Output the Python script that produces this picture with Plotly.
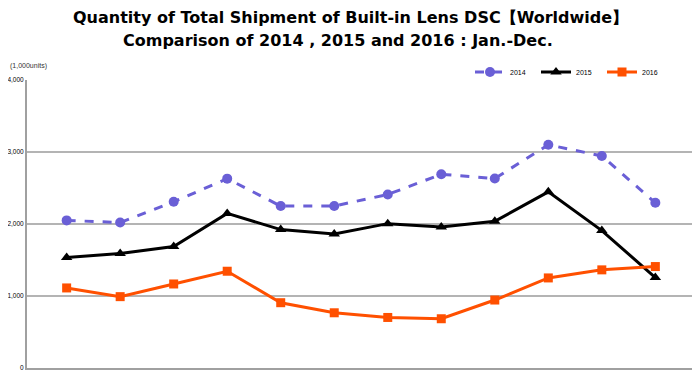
import plotly.graph_objects as go

months = ["Jan", "Feb", "Mar", "Apr", "May", "Jun", "Jul", "Aug", "Sep", "Oct", "Nov", "Dec"]
v2014 = [2050, 2020, 2308, 2630, 2249, 2250, 2410, 2690, 2632, 3100, 2945, 2295]
v2015 = [1535, 1590, 1688, 2147, 1922, 1862, 2005, 1959, 2037, 2447, 1908, 1256]
v2016 = [1112, 991, 1167, 1344, 907, 767, 702, 684, 944, 1251, 1363, 1409]
tick_vals = [0, 1000, 2000, 3000, 4000]
tick_text = ["0", "1,000", "2,000", "3,000", "4,000"]
title_1 = "Quantity of Total Shipment of Built-in Lens DSC【Worldwide】"
title_2 = "Comparison of 2014 , 2015 and 2016 : Jan.-Dec."
units = "(1,000units)"

# page has an 8px body margin, so the figure is sized/positioned to compensate
W, H = 692, 368
ML, MR, MT, MB = 19, 5, 72, 8
PW, PH = W - ML - MR, H - MT - MB


def px_x(page_x):
    return (page_x - 8 - ML) / PW


def px_y(page_y):
    return (H - MB - (page_y - 8)) / PH


fig = go.Figure()
fig.add_trace(go.Scatter(x=months, y=v2014, name="2014", mode="lines+markers",
                         line=dict(color="#6a5fd6", width=3, dash="dash"),
                         marker=dict(symbol="circle", size=10, color="#6a5fd6")))
fig.add_trace(go.Scatter(x=months, y=v2015, name="2015", mode="lines+markers",
                         line=dict(color="#000000", width=3),
                         marker=dict(symbol="triangle-up", size=10, color="#000000")))
fig.add_trace(go.Scatter(x=months, y=v2016, name="2016", mode="lines+markers",
                         line=dict(color="#ff5000", width=3),
                         marker=dict(symbol="square", size=9, color="#ff5000")))

title_font = dict(family="DejaVu Sans", size=16, color="black", weight="bold")
fig.update_layout(
    width=W, height=H,
    margin=dict(l=ML, r=MR, t=MT, b=MB),
    paper_bgcolor="white", plot_bgcolor="white",
    showlegend=True,
    legend=dict(orientation="h", x=px_x(470), xanchor="left", y=px_y(72), yanchor="middle",
                font=dict(family="Liberation Sans", size=7, color="black"),
                entrywidth=21, entrywidthmode="pixels", bgcolor="rgba(0,0,0,0)"),
    xaxis=dict(showticklabels=False, showgrid=False, showline=True, linecolor="#a0a0a0",
               linewidth=2, ticks="", zeroline=False),
    yaxis=dict(range=[0, 4000], tickvals=tick_vals, ticktext=tick_text, automargin=False,
               showgrid=True, gridcolor="#b4b4b4", gridwidth=1.5, ticklabelstandoff=0,
               showline=True, linecolor="#a0a0a0", linewidth=2, zeroline=False,
               tickfont=dict(family="Liberation Sans", size=6.5, color="black"), ticks=""),
    annotations=[
        dict(text=title_1, x=px_x(350), xref="paper", xanchor="center", y=px_y(17), yref="paper",
             yanchor="middle", showarrow=False, font=title_font),
        dict(text=title_2, x=px_x(338), xref="paper", xanchor="center", y=px_y(40), yref="paper",
             yanchor="middle", showarrow=False, font=title_font),
        dict(text=units, x=px_x(8), xref="paper", xanchor="left", y=px_y(66), yref="paper",
             yanchor="middle", showarrow=False,
             font=dict(family="Liberation Sans", size=7, color="#333333")),
    ],
    shapes=[dict(type="line", xref="paper", yref="paper", x0=1, x1=1, y0=0, y1=1,
                 line=dict(color="#a0a0a0", width=2))],
)

fig.write_html("out.html")
